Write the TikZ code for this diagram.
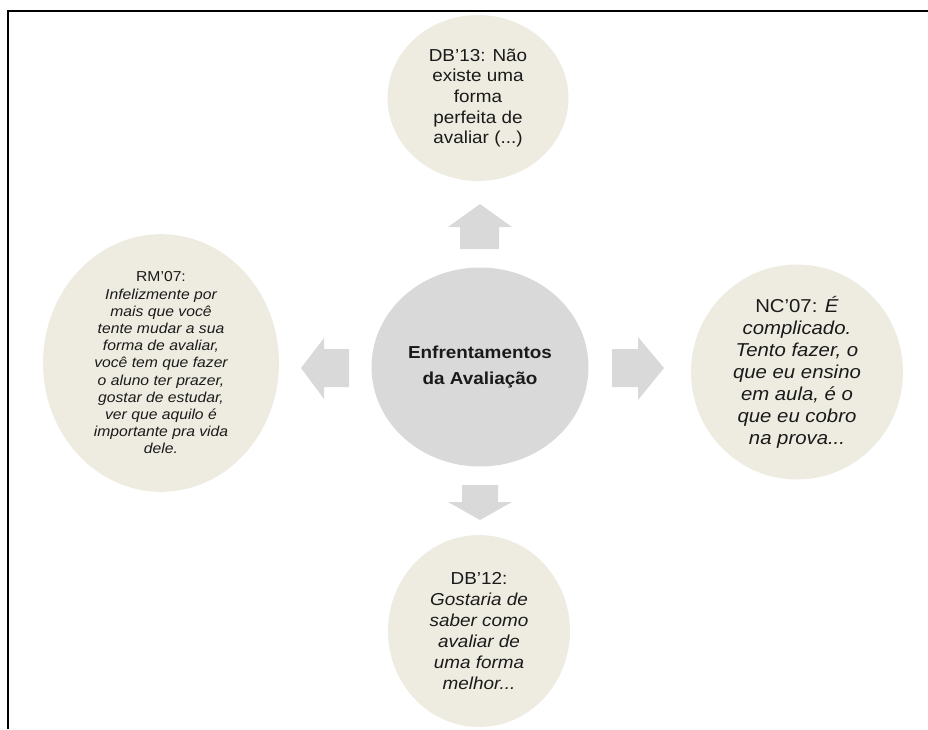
\documentclass[tikz,border=0pt]{standalone}
\usepackage{fontspec}
\setmainfont{Liberation Sans}[FakeStretch=1.09]
\usetikzlibrary{shapes.geometric}
\definecolor{quotefill}{HTML}{EEECE1}
\definecolor{hubfill}{HTML}{D9D9D9}
\definecolor{arrowfill}{HTML}{D9D9D9}
\definecolor{inktext}{HTML}{1A1A1A}
\begin{document}
\begin{tikzpicture}[x=0.75pt,y=-0.75pt,
  quote/.style={ellipse, fill=quotefill, draw=none, inner sep=0pt, align=center, text=inktext,
    font=\fontsize{13}{15.5}\selectfont},
  hub/.style={ellipse, fill=hubfill, draw=none, inner sep=0pt, align=center, text=inktext,
    font=\fontsize{13}{20}\selectfont\bfseries},
  blockarrow/.style={fill=arrowfill, draw=none}]
\useasboundingbox (0,0) rectangle (928,729);

% frame
\draw[line width=1.6pt] (8,729) -- (8,11) -- (928,11);

% central hub
\node[hub, minimum width=162.75pt, minimum height=149.25pt] (hub) at (480,367)
  {Enfrentamentos\\da Avaliação};

% surrounding quotes
\node[quote, minimum width=135.75pt, minimum height=124.5pt] (top) at (478,98)
  {DB’13: Não\\existe uma\\forma\\perfeita de\\avaliar (...)};
\node[quote, minimum width=177pt, minimum height=183pt,
  font=\fontsize{10.8}{12.9}\selectfont] (left) at (161,363)
  {RM’07:\\\itshape Infelizmente por\\\itshape mais que você\\\itshape tente mudar a sua\\\itshape forma de avaliar,\\\itshape você tem que fazer\\\itshape o aluno ter prazer,\\\itshape gostar de estudar,\\\itshape ver que aquilo é\\\itshape importante pra vida\\\itshape dele.};
\node[quote, minimum width=159pt, minimum height=159pt,
  font=\fontsize{14}{16.5}\selectfont] (right) at (797,372)
  {NC’07: \textit{É}\\\itshape complicado.\\\itshape Tento fazer, o\\\itshape que eu ensino\\\itshape em aula, é o\\\itshape que eu cobro\\\itshape na prova...};
\node[quote, minimum width=136.5pt, minimum height=144pt,
  font=\fontsize{13}{15.75}\selectfont] (bottom) at (479,631)
  {DB’12:\\\itshape Gostaria de\\\itshape saber como\\\itshape avaliar de\\\itshape uma forma\\\itshape melhor...};

% block arrows pointing outward
\fill[blockarrow] (480,204) -- (512,227) -- (499,227) -- (499,249) -- (460,249) -- (460,227) -- (448,227) -- cycle;
\fill[blockarrow] (462,485) -- (498,485) -- (498,502) -- (512,502) -- (480,520) -- (448,502) -- (462,502) -- cycle;
\fill[blockarrow] (301,368) -- (324,338) -- (324,349) -- (349,349) -- (349,387) -- (324,387) -- (324,399) -- cycle;
\fill[blockarrow] (664,368) -- (638,400) -- (638,387) -- (612,387) -- (612,349) -- (638,349) -- (638,337) -- cycle;
\end{tikzpicture}
\end{document}
